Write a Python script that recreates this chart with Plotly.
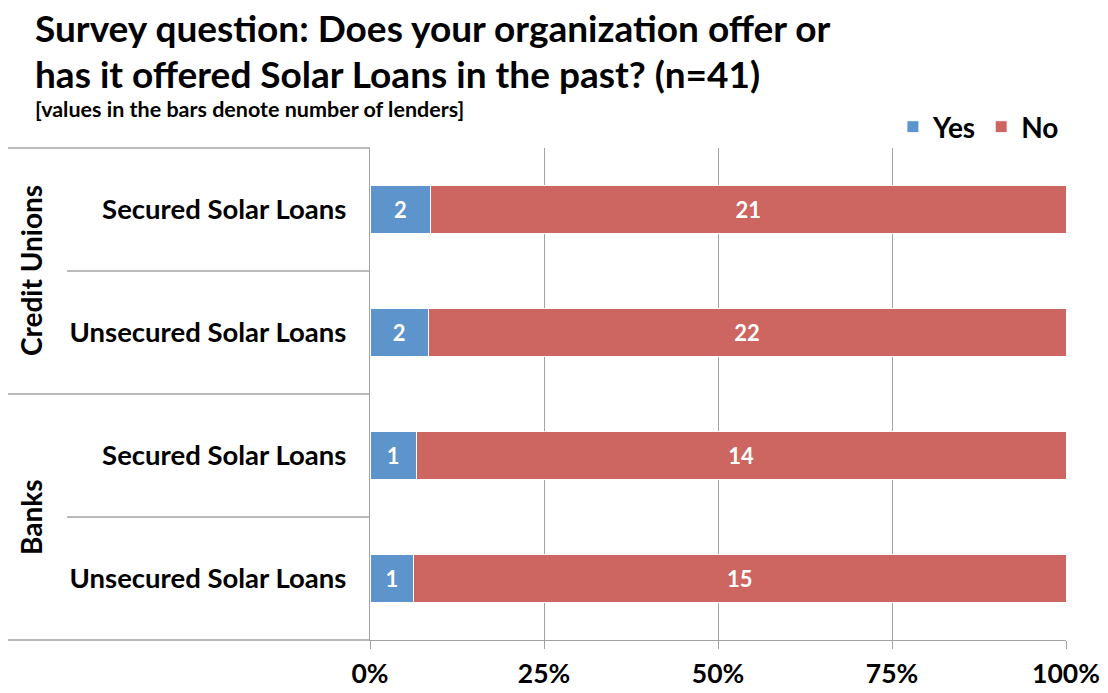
import plotly.graph_objects as go

# Survey results: number of lenders answering Yes / No per loan type
groups = ["Credit Unions", "Credit Unions", "Banks", "Banks"]
loan_types = ["Secured Solar Loans", "Unsecured Solar Loans",
              "Secured Solar Loans", "Unsecured Solar Loans"]
yes_counts = [2, 2, 1, 1]
no_counts = [21, 22, 14, 15]
x_ticks = [0, 25, 50, 75, 100]
x_tick_labels = ["0%", "25%", "50%", "75%", "100%"]

row_ids = [f"{g} | {t}" for g, t in zip(groups, loan_types)]

FONT = "Lato"
BLUE = "#5d94cc"
RED = "#cd6661"
GRID = "#a3a3a3"

W, H = 1108, 693
L, R, T, B = 370, 42, 148, 53
PW, PH = W - L - R, H - T - B


def px_x(px):
    return (px - L) / PW


def px_y(py):
    return (H - B - py) / PH


fig = go.Figure()
for name, vals, color in [("Yes", yes_counts, BLUE), ("No", no_counts, RED)]:
    fig.add_trace(go.Bar(
        name=name, y=row_ids, x=vals, orientation="h",
        marker=dict(color=color, line=dict(color="white", width=1)),
        text=[str(v) for v in vals], textposition="inside",
        insidetextanchor="middle", textangle=0,
        textfont=dict(family=FONT, size=22, color="white", weight="bold"),
        hoverinfo="x+y+name",
    ))

fig.update_layout(
    width=W, height=H,
    margin=dict(l=L, r=R, t=T, b=B, autoexpand=False),
    barmode="stack", barnorm="percent", bargap=0.61,
    plot_bgcolor="white", paper_bgcolor="white",
    font=dict(family=FONT, color="black"),
    showlegend=True,
    legend=dict(orientation="h", x=0.997, xanchor="right", y=px_y(127),
                yanchor="middle", font=dict(size=28, weight="bold"),
                itemwidth=30, tracegroupgap=0, traceorder="normal",
                bgcolor="rgba(0,0,0,0)"),
    xaxis=dict(range=[0, 100], tickvals=x_ticks, ticktext=x_tick_labels,
               showgrid=True, gridcolor=GRID, gridwidth=1.3,
               zeroline=False, showline=True, linecolor=GRID, linewidth=1.3,
               ticks="outside", ticklen=8, tickcolor=GRID, tickwidth=1.3,
               ticklabelstandoff=2,
               tickfont=dict(size=26.5, weight="bold")),
    yaxis=dict(categoryorder="array", categoryarray=row_ids,
               autorange="reversed", tickvals=row_ids, ticktext=loan_types,
               showline=True, linecolor=GRID, linewidth=1.3, ticks="",
               showgrid=False, ticklabelstandoff=17,
               tickfont=dict(size=27.5, weight="bold")),
)

# Row separators extending into the label area
for yv, start in [(1.0, 8), (0.75, 67), (0.5, 8), (0.25, 67), (0.0, 8)]:
    fig.add_shape(type="line", xref="paper", yref="paper",
                  x0=px_x(start), x1=0, y0=yv, y1=yv,
                  line=dict(color=GRID, width=1.3))

# Group labels, rotated
for label, yc in [("Credit Unions", 0.75), ("Banks", 0.25)]:
    fig.add_annotation(text=label, xref="paper", yref="paper",
                       x=px_x(31), y=yc, textangle=-90, showarrow=False,
                       xanchor="center", yanchor="middle",
                       font=dict(size=28, weight="bold"))

# Title lines and note
fig.add_annotation(text="Survey question: Does your organization offer or",
                   xref="paper", yref="paper", x=px_x(33), y=px_y(27),
                   xanchor="left", yanchor="middle", showarrow=False,
                   font=dict(size=37, weight="bold"))
fig.add_annotation(text="has it offered Solar Loans in the past? (n=41)",
                   xref="paper", yref="paper", x=px_x(33), y=px_y(73),
                   xanchor="left", yanchor="middle", showarrow=False,
                   font=dict(size=37, weight="bold"))
fig.add_annotation(text="[values in the bars denote number of lenders]",
                   xref="paper", yref="paper", x=px_x(33), y=px_y(109),
                   xanchor="left", yanchor="middle", showarrow=False,
                   font=dict(size=21.5, weight="bold"))

fig.write_html("out.html")
